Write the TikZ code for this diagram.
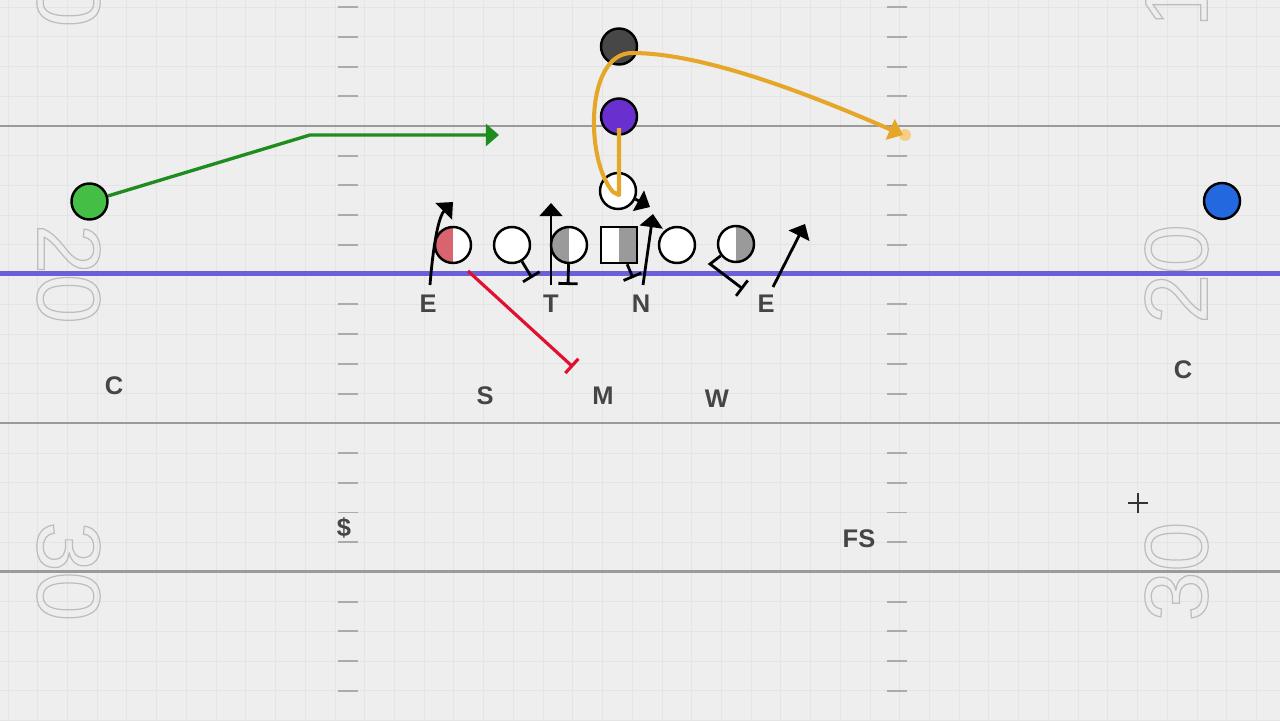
\documentclass[tikz,border=0pt]{standalone}
\usepackage{fontspec}
\setmainfont{Liberation Sans}
\usetikzlibrary{arrows.meta}

\definecolor{field}{HTML}{EEEEEE}
\definecolor{gridline}{HTML}{E4E4E4}
\definecolor{yardline}{HTML}{9A9A9A}
\definecolor{hashmark}{HTML}{ABABAB}
\definecolor{los}{HTML}{6B60D8}
\definecolor{numline}{HTML}{BDBDBD}
\definecolor{lbltext}{HTML}{454545}
\definecolor{wrgreen}{HTML}{45BE45}
\definecolor{routegreen}{HTML}{1E8C1E}
\definecolor{wrblue}{HTML}{2468E0}
\definecolor{backdark}{HTML}{474747}
\definecolor{backpurple}{HTML}{6A2FCF}
\definecolor{routeorange}{HTML}{E6A627}
\definecolor{dotorange}{HTML}{F6CF86}
\definecolor{halfred}{HTML}{D9636E}
\definecolor{halfgray}{HTML}{9A9A9A}
\definecolor{blockred}{HTML}{E0102E}

\newcommand{\hollow}[1]{\special{pdf:literal direct 1 Tr 0.7 w}#1\special{pdf:literal direct 0 Tr}}

\tikzset{
	man/.style={circle, draw=black, fill=white, line width=1.4pt, minimum size=0.72cm, inner sep=0pt},
	centerman/.style={rectangle, draw=black, fill=white, line width=1.4pt, minimum size=0.72cm, inner sep=0pt},
	lhalf/.style={path picture={\fill[#1] (path picture bounding box.south west) rectangle (path picture bounding box.north);}},
	rhalf/.style={path picture={\fill[#1] (path picture bounding box.south east) rectangle (path picture bounding box.north);}},
	lbl/.style={font=\fontsize{14.5}{14.5}\selectfont\bfseries, text=lbltext, inner sep=0pt},
	yardnum/.style={font=\fontsize{51}{51}\selectfont, text=numline, inner sep=0pt},
	rush/.style={draw=black, line width=1.6pt, -{Triangle[length=7.5pt, width=13pt]}},
	block/.style={draw=black, line width=1.6pt, -{Bar[width=11pt]}},
	hashmark/.style={draw=hashmark, line width=1.1pt},
	yard/.style={draw=yardline, line width=1.5pt}
}

\begin{document}
\begin{tikzpicture}[x=0.02cm, y=-0.02cm]
	\fill[field] (0,0) rectangle (1280,720);
	\useasboundingbox (0,0) rectangle (1280,720);

	\begin{scope}[shift={(8,7.08)}]
		\draw[gridline, line width=0.5pt, step=0.5946cm] (-8,728) grid (1290,-8);
	\end{scope}

	\draw[yard] (0,126) -- (1280,126);
	\draw[yard] (0,423) -- (1280,423);
	\draw[yard] (0,571.5) -- (1280,571.5);

	\foreach \k in {-4,-3,-2,-1,1,2,3,4,6,7,8,9,11,12,13,14,16,17,18,19} {
		\draw[hashmark] (338,{126+29.73*\k}) -- (358,{126+29.73*\k});
		\draw[hashmark] (887,{126+29.73*\k}) -- (907,{126+29.73*\k});
	}

	\node[yardnum, rotate=-90] (num10l) at (68.5,-22.5) {\hollow{10}};
	\node[yardnum, rotate=-90] (num20l) at (68.5,274) {\hollow{20}};
	\node[yardnum, rotate=-90] (num30l) at (68.5,571.5) {\hollow{30}};
	\node[yardnum, rotate=90] (num10r) at (1176.5,-22.5) {\hollow{10}};
	\node[yardnum, rotate=90] (num20r) at (1176.5,274) {\hollow{20}};
	\node[yardnum, rotate=90] (num30r) at (1176.5,571.5) {\hollow{30}};

	\draw[draw=los, line width=2.3pt] (0,273.5) -- (1280,273.5);

	\node[man, fill=wrgreen] (wrl) at (89.5,201.5) {};
	\node[man, fill=wrblue] (wrr) at (1222,201) {};
	\node[man, fill=backdark] (hb) at (619,46.5) {};
	\node[man, fill=backpurple] (fb) at (619,116.5) {};
	\node[man] (qb) at (618,191) {};

	\node[man, lhalf=halfred] (te) at (453,245) {};
	\node[man] (lt) at (512,245) {};
	\node[man, lhalf=halfgray] (lg) at (569,245) {};
	\node[centerman, rhalf=halfgray] (cn) at (619,245) {};
	\node[man] (rg) at (677,245) {};
	\node[man, rhalf=halfgray] (rt) at (736,244) {};

	\coordinate (grbreak) at (310,135);
	\coordinate (grend) at (499,135);
	\draw[draw=routegreen, line width=1.9pt, -{Triangle[length=7.5pt, width=12.5pt]}] (wrl) -- (grbreak) -- (grend);

	\node[circle, fill=dotorange, minimum size=0.24cm, inner sep=0pt] (odot) at (905,135) {};
	\coordinate (ostart) at (619,128);
	\coordinate (odown) at (619,195);
	\coordinate (ohook) at (613,192);
	\coordinate (otop) at (632,53);
	\coordinate (oend) at (903,135);
	\draw[draw=routeorange, line width=2.3pt, line join=round, -{Triangle[length=8pt, width=12.5pt]}]
		(ostart) -- (odown) -- (ohook) .. controls (585,160) and (585,53) .. (otop)
		.. controls (700,53) and (800,90) .. (oend);

	\node[lbl] (lblel) at (428,304) {E};
	\node[lbl] (lblt) at (551,304) {T};
	\node[lbl] (lbln) at (641,304) {N};
	\node[lbl] (lbler) at (766,304) {E};
	\node[lbl] (lblcl) at (114,386) {C};
	\node[lbl] (lbls) at (485,396) {S};
	\node[lbl] (lblm) at (603,396) {M};
	\node[lbl] (lblw) at (717,399) {W};
	\node[lbl] (lblcr) at (1183,370) {C};
	\node[lbl] (lblss) at (344,528) {\$};
	\node[lbl] (lblfs) at (859,539) {FS};

	\coordinate (elfoot) at (430,285);
	\coordinate (eltip) at (453,202);
	\coordinate (tfoot) at (551,285);
	\coordinate (ttip) at (551,203);
	\coordinate (nfoot) at (643,285);
	\coordinate (ntip) at (653,214);
	\coordinate (erfoot) at (773,287);
	\coordinate (ertip) at (805,224);
	\coordinate (qbtip) at (650,207);
	\draw[rush] (elfoot) .. controls (434,235) and (440,215) .. (eltip);
	\draw[rush] (tfoot) -- (ttip);
	\draw[rush] (nfoot) -- (ntip);
	\draw[rush] (erfoot) -- (ertip);
	\draw[rush] (qb.-25) -- (qbtip);

	\coordinate (ltblock) at (532,278);
	\coordinate (lgblock) at (568,285);
	\coordinate (cnblock) at (633,278);
	\coordinate (rtbend) at (710,264);
	\coordinate (rtblock) at (743,289);
	\draw[block] (lt) -- (ltblock);
	\draw[block] (lg) -- (lgblock);
	\draw[block] (cn) -- (cnblock);
	\draw[block] (rt) -- (rtbend) -- (rtblock);

	\coordinate (redstart) at (468,271);
	\coordinate (redend) at (573,367);
	\draw[draw=blockred, line width=1.8pt, -{Bar[width=11pt]}] (redstart) -- (redend);

	\draw[draw=black!80, line width=0.6pt] (1128,503) -- (1148,503);
	\draw[draw=black!80, line width=0.6pt] (1138,493) -- (1138,513);
\end{tikzpicture}
\end{document}
